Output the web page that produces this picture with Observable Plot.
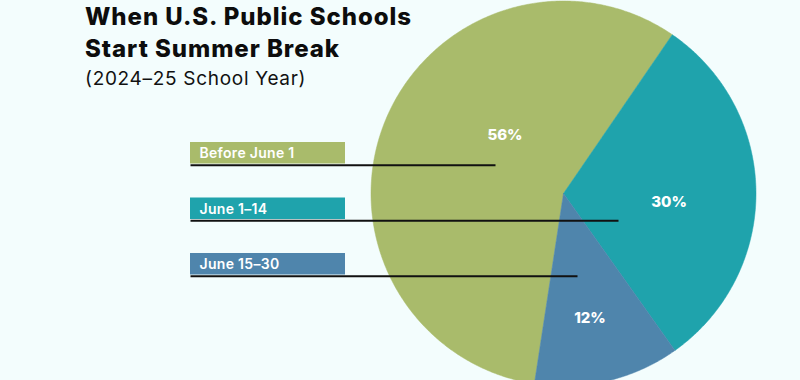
<!DOCTYPE html>
<html><head><meta charset="utf-8">
<script src="https://cdn.jsdelivr.net/npm/d3@7"></script>
<script src="https://cdn.jsdelivr.net/npm/@observablehq/plot@0.6"></script>
<style>
html,body{margin:0;padding:0;background:#f3fdfd;}
#wrap{position:relative;width:800px;height:380px;overflow:hidden;background:#f3fdfd;}
#title{position:absolute;left:85px;top:1px;font-family:Inter,sans-serif;font-weight:800;font-size:24px;line-height:32px;color:#0d0d0d;letter-spacing:0.95px;}
#sub{position:absolute;left:85px;top:67px;font-family:Inter,sans-serif;font-weight:400;font-size:19px;line-height:24px;color:#111;letter-spacing:0.7px;}
svg text.leg{letter-spacing:0.3px;}
</style></head><body>
<div id="wrap"><div id="chart"></div>
<div id="title">When U.S. Public Schools<br>Start Summer Break</div>
<div id="sub">(2024–25 School Year)</div></div>
<script>
// data
const categories = ["Before June 1", "June 1–14", "June 15–30"];
const shares = [56, 30, 12];
const shareLabels = ["56%", "30%", "12%"];
const colors = ["#a9bb6b", "#1fa3ac", "#4f85ac"];

// layout
const cx = 563, cy = 193, R = 192.5;
const startDeg = 188.7;
const labelFrac = [0.614, 0.545, 0.53];   // position along slice arc
const labelRad = [0.43, 0.55, 0.66];      // fraction of radius
const legendX1 = 190, legendX2 = 345;
const rowTop0 = 142, rowStep = 55.5, rowH = 21.5;
const leaderEnd = [495, 618, 577];

const total = d3.sum(shares);
let acc = startDeg;
const slices = categories.map((c, i) => {
  const a0 = acc, a1 = acc + shares[i] / total * 360;
  acc = a1;
  return {cat: c, a0, a1, i};
});
const toXY = (deg, r) => {
  const t = deg * Math.PI / 180;
  return [cx + r * Math.sin(t), cy - r * Math.cos(t)];
};
const polys = slices.map(s => {
  const pts = [toXY(0, 0)];
  const n = Math.ceil((s.a1 - s.a0) / 0.5);
  for (let k = 0; k <= n; k++) pts.push(toXY(s.a0 + (s.a1 - s.a0) * k / n, R));
  pts.push(toXY(0, 0));
  return pts.map(([x, y]) => ({x, y, cat: s.cat}));
});
const labelPts = slices.map((s, i) => {
  const [x, y] = toXY(s.a0 + (s.a1 - s.a0) * labelFrac[i], R * labelRad[i]);
  return {x, y, text: shareLabels[i]};
});
const rows = categories.map((c, i) => {
  const top = rowTop0 + i * rowStep;
  return {cat: c, y1: top, y2: top + rowH, ym: top + rowH / 2 + 0.5, line: top + rowH + 1.2, end: leaderEnd[i], color: colors[i]};
});

const marks = [];
polys.forEach((p, i) => marks.push(Plot.line(p, {x: "x", y: "y", fill: colors[i], stroke: colors[i], strokeWidth: 0.5})));
marks.push(Plot.rect(rows, {x1: legendX1, x2: legendX2, y1: "y1", y2: "y2", fill: "color"}));
marks.push(Plot.text(rows, {x: legendX1 + 9, y: "ym", text: "cat", fill: "white", textAnchor: "start", fontSize: 14, fontWeight: 600, fontFamily: "Inter, sans-serif", className: "leg"}));
marks.push(Plot.link(rows, {x1: legendX1, x2: "end", y1: "line", y2: "line", stroke: "#111", strokeWidth: 2}));
marks.push(Plot.text(labelPts, {x: "x", y: "y", text: "text", fill: "white", fontSize: 15, fontWeight: 800, fontFamily: "Inter, sans-serif"}));

const chart = Plot.plot({
  width: 800, height: 380,
  marginTop: 0, marginBottom: 0, marginLeft: 0, marginRight: 0,
  x: {domain: [0, 800], range: [0, 800], axis: null},
  y: {domain: [0, 380], range: [0, 380], axis: null},
  color: {type: "identity"},
  style: {background: "transparent", overflow: "hidden"},
  marks
});
chart.querySelectorAll("g[aria-label='text']").forEach((g, i) => { if (i === 0) g.querySelectorAll("text").forEach(t => t.style.letterSpacing = "0.3px"); });
document.getElementById("chart").appendChild(chart);
</script>
</body></html>
